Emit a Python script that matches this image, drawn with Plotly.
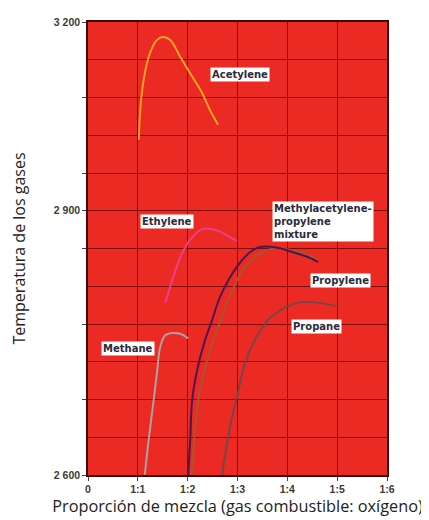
import plotly.graph_objects as go

# valores (x = proporción gas:oxígeno, y = temperatura)
acetileno_x = [1.02, 1.05, 1.12, 1.24, 1.38, 1.51, 1.65, 1.85, 2.05, 2.29, 2.45, 2.61]
acetileno_y = [3044, 3085, 3125, 3158, 3176, 3180, 3176, 3154, 3132, 3106, 3083, 3064]

etileno_x = [1.55, 1.71, 1.89, 2.09, 2.31, 2.59, 2.85, 2.99]
etileno_y = [2828, 2862, 2894, 2915, 2926, 2924, 2915, 2910]

mezcla_x = [2.01, 2.05, 2.09, 2.19, 2.35, 2.49, 2.65, 2.99, 3.25, 3.45, 3.80, 4.12, 4.40, 4.62]
mezcla_y = [2600, 2646, 2699, 2739, 2779, 2805, 2836, 2876, 2895, 2902, 2901, 2895, 2889, 2882]

propileno_x = [2.09, 2.15, 2.23, 2.39, 2.59, 2.79, 3.11, 3.39, 3.65, 3.99, 4.32, 4.62]
propileno_y = [2600, 2660, 2706, 2752, 2792, 2828, 2872, 2891, 2899, 2899, 2894, 2885]

propano_x = [2.69, 2.85, 2.99, 3.15, 3.35, 3.61, 3.96, 4.30, 4.62, 4.90, 5.02]
propano_y = [2600, 2664, 2703, 2748, 2779, 2805, 2822, 2829, 2828, 2825, 2823]

metano_x = [1.14, 1.20, 1.31, 1.39, 1.45, 1.55, 1.69, 1.85, 2.01]
metano_y = [2600, 2637, 2695, 2739, 2770, 2785, 2788, 2787, 2781]

x_ticks = [0, 1, 2, 3, 4, 5, 6]
x_labels = ['0', '1:1', '1:2', '1:3', '1:4', '1:5', '1:6']
y_ticks = [2600, 2700, 2800, 2900, 2950, 3000, 3100, 3200]
y_labels = ['2 600', '', '', '', '2 900', '', '', '3 200']

curvas = [
    (acetileno_x, acetileno_y, '#f5a51e'),
    (etileno_x, etileno_y, '#e8408c'),
    (propileno_x, propileno_y, '#a8552e'),
    (mezcla_x, mezcla_y, '#4a1850'),
    (propano_x, propano_y, '#74474a'),
    (metano_x, metano_y, '#a9a3a3'),
]

fig = go.Figure()
for xs, ys, color in curvas:
    fig.add_trace(go.Scatter(x=xs, y=ys, mode='lines', line_shape='spline',
                             line=dict(color=color, width=2), showlegend=False))

# etiquetas de cada gas
etiquetas = [
    ('Acetylene', 3.05, 3130, 'center'),
    ('Ethylene', 1.59, 2936, 'center'),
    ('Methylacetylene-<br>propylene<br>mixture', 3.70, 2936, 'left'),
    ('Propylene', 5.06, 2858, 'center'),
    ('Propane', 4.58, 2797, 'center'),
    ('Methane', 0.80, 2768, 'center'),
]
for texto, x, y, anc in etiquetas:
    fig.add_annotation(x=x, y=y, text='<b>' + texto + '</b>', showarrow=False,
                       xanchor=anc, align='left', bgcolor='white',
                       font=dict(family='DejaVu Sans', size=10, color='#2a2a3a'),
                       borderpad=1)

fig.update_layout(
    width=421, height=512,
    margin=dict(l=80, r=42, t=14, b=45),
    paper_bgcolor='white',
    plot_bgcolor='#ec2a24',
    xaxis=dict(range=[0, 6], tickvals=x_ticks, ticktext=['<b>' + t + '</b>' for t in x_labels],
               showgrid=True, gridcolor='#7e0a0a', gridwidth=1,
               ticks='outside', ticklen=4, tickcolor='#444',
               showline=True, linecolor='#3a0a0a', linewidth=1.5, mirror=True,
               tickfont=dict(family='Liberation Sans', size=10.5, color='#3a3a3a'),
               title=dict(text='Proporción de mezcla (gas combustible: oxígeno)', standoff=4,
                          font=dict(family='Open Sans', size=16.3, color='#222')),
               automargin=False, zeroline=False),
    yaxis=dict(range=[2600, 3200], tickvals=y_ticks, ticktext=['<b>' + t + '</b>' for t in y_labels],
               showgrid=False,
               minor=dict(dtick=50, tick0=2600, showgrid=True, gridcolor='#7e0a0a', gridwidth=1, ticks=''),
               ticks='outside', ticklen=4, tickcolor='#444',
               showline=True, linecolor='#3a0a0a', linewidth=1.5, mirror=True,
               tickfont=dict(family='Liberation Sans', size=10.5, color='#3a3a3a'),
               title=dict(text='Temperatura de los gases', standoff=28,
                          font=dict(family='Open Sans', size=16, color='#222')),
               automargin=False, zeroline=False),
)

fig.write_html('out.html')
